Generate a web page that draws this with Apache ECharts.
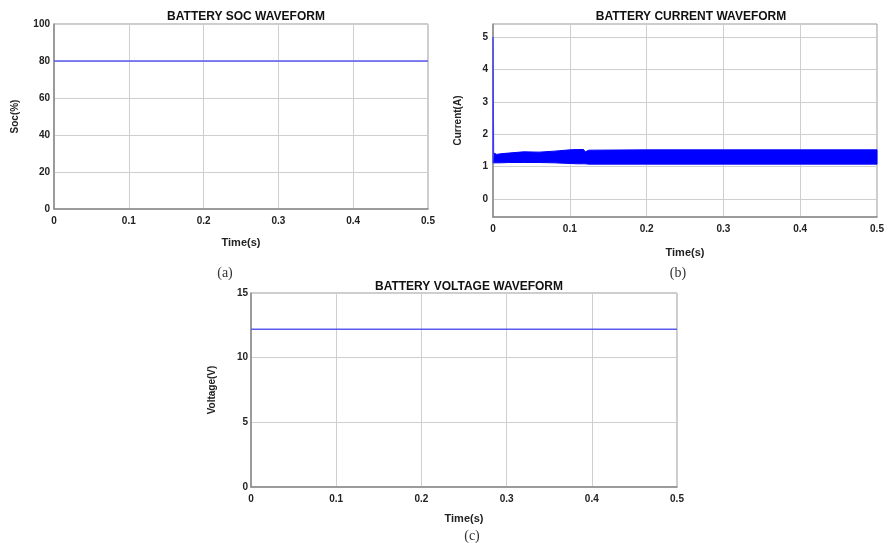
<!DOCTYPE html>
<html>
<head>
<meta charset="utf-8">
<script src="https://cdn.jsdelivr.net/npm/echarts@6/dist/echarts.min.js"></script>
<style>
html,body{margin:0;padding:0;background:#fff;}
#c{width:888px;height:543px;}
</style>
</head>
<body>
<div id="c"></div>
<script>
// ---- data ----
var timeTicks = [0, 0.1, 0.2, 0.3, 0.4, 0.5];
var currentTicks = [0, 1, 2, 3, 4, 5];

// (a) battery SOC
var socTime = [0, 0.5];
var socValues = [80, 80];

// (b) battery current: initial spike + ripple envelope
var spikeTime = [0, 0, 0.0008];
var spikeValues = [1.1, 5.0, 1.3];
var bandTime  = [0.001, 0.005, 0.01, 0.02, 0.04, 0.06, 0.08, 0.1, 0.11, 0.118, 0.12, 0.125, 0.2, 0.3, 0.4, 0.5];
var bandUpper = [1.42, 1.38, 1.40, 1.42, 1.46, 1.45, 1.48, 1.52, 1.53, 1.53, 1.46, 1.51, 1.52, 1.52, 1.52, 1.52];
var bandLower = [1.12, 1.12, 1.12, 1.13, 1.13, 1.13, 1.12, 1.10, 1.09, 1.09, 1.09, 1.08, 1.08, 1.08, 1.08, 1.08];

// (c) battery voltage
var voltTime = [0, 0.5];
var voltValues = [12.2, 12.2];

// ---- chart ----
var FONT = 'Liberation Sans';
function pairs(xs, ys){ return xs.map(function(x,i){ return [x, ys[i]]; }); }
var bandData = bandTime.map(function(t,i){ return [t, bandUpper[i], bandLower[i]]; });

function xAx(gi, gap){
  return {
    type:'value', gridIndex:gi, min:0, max:0.5, interval:0.1,
    name:'Time(s)', nameLocation:'middle', nameGap:gap,
    nameTextStyle:{fontFamily:FONT, fontWeight:'bold', fontSize:11, color:'#222'},
    axisLine:{show:true, onZero:false, lineStyle:{color:'#8a8a8a', width:1.5}},
    axisTick:{show:false},
    axisLabel:{fontFamily:FONT, fontWeight:'bold', fontSize:10, color:'#222', margin:7},
    splitLine:{show:true, lineStyle:{color:'#cfcfcf', width:1}}
  };
}
function yAx(gi, name, min, max, interval, gap, margin){
  return {
    type:'value', gridIndex:gi, min:min, max:max, interval:interval,
    name:name, nameLocation:'middle', nameGap:gap,
    nameTextStyle:{fontFamily:FONT, fontWeight:'bold', fontSize:10, color:'#222'},
    axisLine:{show:true, onZero:false, lineStyle:{color:'#8a8a8a', width:1.5}},
    axisTick:{show:false},
    axisLabel:{fontFamily:FONT, fontWeight:'bold', fontSize:10, color:'#222', margin:margin},
    splitLine:{show:true, lineStyle:{color:'#cfcfcf', width:1}}
  };
}
function ttl(text, x, y, serif){
  return {text:text, left:x, top:y, textAlign:'center',
    textStyle: serif ? {fontFamily:'Liberation Serif', fontWeight:'normal', fontSize:14, color:'#333'}
                     : {fontFamily:FONT, fontWeight:'bold', fontSize:12, color:'#111'}};
}

var yB = yAx(1, 'Current(A)', -0.55, 5.4, null, 30, 5);
delete yB.interval;
yB.axisLabel.customValues = currentTicks;
yB.axisTick.customValues = currentTicks;

var option = {
  animation:false,
  backgroundColor:'#fff',
  title:[
    ttl('BATTERY SOC WAVEFORM', 241, 6),
    ttl('BATTERY CURRENT WAVEFORM', 686, 6),
    ttl('BATTERY VOLTAGE WAVEFORM', 464, 276),
    ttl('(a)', 220, 261, true),
    ttl('(b)', 673, 261, true),
    ttl('(c)', 467, 524, true)
  ],
  grid:[
    {left:54, top:24, width:374, height:185, show:true, borderColor:'#9a9a9a', borderWidth:1, backgroundColor:'#fff'},
    {left:493, top:24, width:384, height:193, show:true, borderColor:'#9a9a9a', borderWidth:1, backgroundColor:'#fff'},
    {left:251, top:293, width:426, height:194, show:true, borderColor:'#9a9a9a', borderWidth:1, backgroundColor:'#fff'}
  ],
  xAxis:[xAx(0, 28), xAx(1, 30), xAx(2, 26)],
  yAxis:[
    yAx(0, 'Soc(%)', 0, 100, 20, 34, 4),
    yB,
    yAx(2, 'Voltage(V)', 0, 15, 5, 34, 3)
  ],
  series:[
    {type:'line', xAxisIndex:0, yAxisIndex:0, data:pairs(socTime, socValues), symbol:'none',
     lineStyle:{color:'#5a5af0', width:1.5}},
    {type:'custom', xAxisIndex:1, yAxisIndex:1, data:bandData,
     encode:{x:0, y:[1,2]},
     renderItem:function(params, api){
       if (params.dataIndex !== 0) return null;
       var pts = [];
       for (var i = 0; i < bandData.length; i++) pts.push(api.coord([bandData[i][0], bandData[i][1]]));
       for (var j = bandData.length - 1; j >= 0; j--) pts.push(api.coord([bandData[j][0], bandData[j][2]]));
       return {type:'polygon', shape:{points:pts},
               style:{fill:'#0000ff', stroke:'#0000ff', lineWidth:1}};
     }},
    {type:'line', xAxisIndex:1, yAxisIndex:1, data:pairs(spikeTime, spikeValues), symbol:'none',
     lineStyle:{color:'#3a3aff', width:1.2}},
    {type:'line', xAxisIndex:2, yAxisIndex:2, data:pairs(voltTime, voltValues), symbol:'none',
     lineStyle:{color:'#5a5af0', width:1.5}}
  ]
};
var chart = echarts.init(document.getElementById('c'), null, {renderer:'canvas'});
chart.setOption(option);
</script>
</body>
</html>
